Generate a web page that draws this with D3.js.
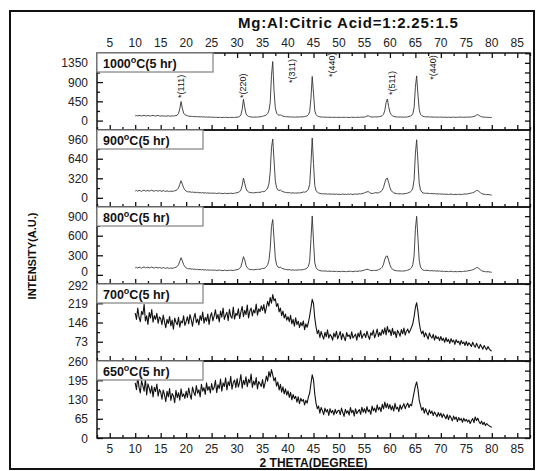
<!DOCTYPE html>
<html>
<head>
<meta charset="utf-8">
<script src="https://cdn.jsdelivr.net/npm/d3@7"></script>
<style>
  body { margin: 0; background: #fff; }
  svg { display: block; font-family: Arial, "Liberation Sans", sans-serif; }
</style>
</head>
<body>
<svg id="chart" width="537" height="471"></svg>
<script>
// sampling of every pattern: 10..80 deg, 0.25 deg step
const thetaStart = 10
const thetaStep = 0.25

const xTickLabels = [5, 10, 15, 20, 25, 30, 35, 40, 45, 50, 55, 60, 65, 70, 75, 80, 85]
const panelNames = ['1000', '900', '800', '700', '650']

// intensities, one row = 5 degrees
const int1000 = [
  112,118,109,121,115,108,117,124,113,110,119,114,106,116,121,111,108,115,119,110,
  107,112,104,110,101,108,113,103,106,111,104,115,112,128,165,270,445,290,175,138,
  124,112,105,98,102,94,97,90,95,88,92,85,90,83,87,81,86,79,84,78,
  82,76,80,73,78,71,77,74,70,76,72,79,73,70,75,71,77,74,72,79,
  78,84,95,135,260,500,310,160,116,98,90,85,82,79,84,80,86,83,90,96,
  100,108,118,135,165,230,420,1050,1380,700,300,175,140,125,132,120,105,98,94,90,
  88,84,86,82,85,80,83,86,81,84,88,85,90,94,100,112,135,210,520,1030,
  640,230,140,108,95,88,84,80,83,78,81,76,80,77,74,79,75,78,73,77,
  74,78,72,76,79,73,77,75,71,76,79,74,77,73,76,80,75,78,82,79,
  84,92,105,112,98,86,82,85,88,84,86,90,95,102,115,145,240,420,505,330,
  195,140,112,98,90,86,84,81,85,80,83,79,84,82,88,95,105,120,160,300,
  780,1045,620,260,150,115,100,92,88,85,90,86,82,85,80,84,81,78,82,79,
  83,79,76,81,78,75,80,77,74,79,82,76,78,75,80,83,78,81,77,80,
  82,79,84,81,86,90,96,108,128,142,120,100,90,84,80,77,79,74,76,72,
  70
]
const int900 = [
  112,120,108,124,116,105,119,126,111,115,122,109,118,125,113,108,121,116,110,118,
  114,106,119,111,104,115,108,102,112,105,110,116,120,135,160,220,280,225,165,130,
  110,102,96,100,91,95,88,93,85,90,82,87,80,85,78,83,76,81,75,79,
  74,80,72,77,70,75,79,71,74,68,76,72,69,75,71,77,73,70,76,80,
  84,90,102,130,200,323,240,150,112,96,88,82,86,80,84,89,85,92,88,97,
  104,100,112,130,160,230,420,820,963,620,280,165,130,118,128,112,100,94,90,86,
  82,86,80,78,83,76,80,77,82,79,84,88,96,92,100,115,140,220,560,980,
  560,200,120,92,80,72,68,64,68,62,66,60,64,59,63,58,62,57,61,56,
  60,55,58,62,56,59,54,61,57,63,58,55,60,64,58,62,66,63,70,74,
  82,90,98,102,88,76,70,74,80,86,78,84,92,105,125,170,250,310,323,250,
  170,120,95,82,74,70,66,68,64,67,63,66,70,72,78,86,98,115,160,300,
  720,950,600,240,130,95,80,74,78,72,76,70,68,72,66,70,64,67,62,66,
  60,64,58,62,56,60,55,59,62,56,54,58,53,57,55,59,54,58,60,63,
  62,66,70,74,78,84,92,105,118,120,102,84,70,62,58,55,52,56,50,48,
  45
]
const int800 = [
  108,115,104,119,111,102,116,121,107,112,118,105,114,120,109,104,117,111,106,113,
  108,101,113,106,99,110,103,97,107,100,105,111,116,130,155,210,263,215,158,125,
  106,98,92,96,87,91,84,89,81,86,78,83,76,81,74,79,72,77,71,75,
  70,76,68,73,66,71,75,67,70,64,72,68,65,71,67,73,69,66,72,76,
  80,86,98,125,195,279,230,145,108,92,84,78,82,76,80,85,81,88,84,93,
  100,96,108,125,155,220,400,740,848,560,260,155,122,110,118,104,94,88,84,80,
  77,81,75,73,78,71,75,72,77,74,79,76,82,86,92,106,130,210,540,903,
  520,185,110,84,72,66,62,58,62,56,60,54,58,53,57,52,56,51,55,50,
  54,49,52,56,50,53,48,55,51,57,52,49,54,58,52,56,60,57,64,68,
  74,80,86,82,74,68,64,67,70,66,72,78,86,98,118,165,240,285,289,225,
  155,110,86,74,68,64,60,62,58,61,57,60,64,66,72,80,92,110,155,290,
  700,898,570,225,120,88,74,68,72,66,70,64,62,66,60,64,58,61,56,60,
  54,58,52,56,50,54,49,53,56,50,48,52,47,51,49,53,48,52,54,57,
  56,60,64,68,72,78,86,98,110,112,95,78,64,56,52,49,46,50,44,42,
  40
]
const int700 = [
  182,158,201,166,149,188,176,215,152,171,139,184,163,195,147,172,158,181,143,167,
  161,138,174,149,126,158,142,169,133,155,121,163,147,137,166,128,152,144,171,135,
  149,168,141,176,157,132,163,181,146,159,137,172,154,186,143,165,151,178,139,169,
  183,152,171,194,160,177,148,189,166,201,158,174,185,153,196,170,162,205,159,181,
  173,198,161,186,207,168,192,176,212,163,189,201,171,194,182,216,174,198,187,209,
  192,214,181,203,226,208,241,219,252,229,236,207,218,186,201,172,189,163,178,155,
  168,149,173,141,158,132,164,138,151,127,146,133,152,119,141,128,146,171,202,234,
  218,163,129,104,117,89,112,96,83,109,92,118,87,101,94,79,106,91,113,84,
  97,112,81,104,90,77,108,93,99,84,111,87,95,102,79,106,91,115,86,98,
  104,89,113,95,82,107,98,117,88,102,121,93,108,97,119,103,126,99,131,109,
  118,96,124,101,112,89,116,107,94,119,103,125,98,113,121,106,117,128,142,168,
  203,221,189,146,118,103,114,91,107,96,83,106,94,87,101,79,96,85,91,77,
  93,78,86,71,89,74,82,67,85,72,79,63,81,70,75,61,78,66,72,59,
  74,58,69,63,55,71,60,52,67,56,48,63,54,45,59,50,43,55,46,40,
  38
]
const int650 = [
  186,163,207,171,152,194,177,158,199,145,183,168,151,176,139,171,157,182,141,164,
  155,131,162,146,123,158,139,167,127,150,142,119,161,136,153,128,166,140,149,134,
  158,137,169,146,131,172,155,143,177,151,163,139,181,158,170,147,186,161,174,152,
  184,162,171,195,153,180,167,199,158,186,174,203,162,190,177,208,165,187,196,170,
  201,172,189,214,168,195,180,207,173,198,186,216,171,192,179,204,166,191,183,174,
  197,168,186,209,192,224,206,231,212,193,204,175,189,162,181,155,173,149,166,145,
  159,137,154,129,147,133,141,121,139,116,134,124,130,112,127,118,139,152,184,213,
  196,148,117,99,108,84,103,92,79,101,88,96,76,99,85,93,78,97,83,91,
  94,79,101,86,73,97,84,92,77,103,85,94,74,99,82,90,96,80,104,87,
  99,84,106,89,95,80,108,92,101,87,112,95,104,89,114,98,121,102,116,99,
  113,95,108,91,117,98,104,89,112,97,106,116,99,110,118,103,114,109,132,154,
  176,189,166,128,110,94,103,84,99,87,78,95,83,91,76,88,80,72,86,74,
  84,69,81,73,65,79,62,76,68,58,74,63,71,55,69,60,66,53,67,57,
  63,54,61,49,58,66,52,71,59,67,55,48,57,45,53,42,49,44,41,38,
  36
]
const series = [int1000, int900, int800, int700, int650]

const yDomains = [[-220, 1580], [-150, 1110], [-140, 1040], [0, 292], [0, 260]]
const yTicks = [[0, 450, 900, 1350], [0, 320, 640, 960], [0, 300, 600, 900], [73, 146, 219, 292], [0, 65, 130, 195, 260]]
const yMinor = [[-225, 225, 675, 1125, 1575], [-160, 160, 480, 800], [-150, 150, 450, 750], [36.5, 109.5, 182.5, 255.5], [32.5, 97.5, 162.5, 227.5]]
const yHidden = [[], [], [], [0], []]

const peakLabels = ['*(111)', '*(220)', '*(311)', '*(440)', '*(511)', '*(440)']
const peakLabelTheta = [18.9, 31.1, 40.7, 48.5, 60.3, 68.3]
const peakLabelBase = [530, 530, 880, 1020, 600, 955]

const L = 97, R = 530, T = 53, B = 438
const ph = (B - T) / 5

const svg = d3.select('#chart')
svg.append('rect').attr('x', 0).attr('y', 0).attr('width', 537).attr('height', 471).attr('fill', '#fff')
svg.append('rect').attr('x', 10).attr('y', 11).attr('width', 524).attr('height', 458)
  .attr('fill', 'none').attr('stroke', '#111').attr('stroke-width', 2)

const x = d3.scaleLinear().domain([2.5, 87.5]).range([L, R])
const xMinor = d3.range(2.5, 88, 2.5).filter(function (v) { return v % 5 !== 0 })

svg.append('text').attr('x', 238).attr('y', 28).attr('font-size', 15).attr('font-weight', 'bold')
  .attr('letter-spacing', 0.8).attr('fill', '#111').text('Mg:Al:Citric Acid=1:2.25:1.5')

// top and bottom tick labels
svg.append('g').selectAll('text').data(xTickLabels).join('text')
  .attr('x', function (d) { return x(d) }).attr('y', 47).attr('text-anchor', 'middle')
  .attr('font-size', 12).attr('fill', '#222').text(function (d) { return d })
svg.append('g').selectAll('text').data(xTickLabels).join('text')
  .attr('x', function (d) { return x(d) }).attr('y', 453).attr('text-anchor', 'middle')
  .attr('font-size', 12).attr('fill', '#222').text(function (d) { return d })

svg.append('text').attr('x', (L + R) / 2).attr('y', 467).attr('text-anchor', 'middle')
  .attr('font-size', 12).attr('font-weight', 'bold').attr('fill', '#111').text('2 THETA(DEGREE)')
svg.append('text').attr('transform', 'translate(36,256) rotate(-90)').attr('text-anchor', 'middle')
  .attr('font-size', 11).attr('font-weight', 'bold').attr('fill', '#111').text('INTENSITY(A.U.)')

series.forEach(function (vals, p) {
  const top = T + p * ph
  const y = d3.scaleLinear().domain(yDomains[p]).range([top + ph, top])
  const g = svg.append('g')

  const line = d3.line()
    .x(function (d, i) { return x(thetaStart + i * thetaStep) })
    .y(function (d) { return y(d) })
  g.append('path').datum(vals).attr('d', line).attr('fill', 'none')
    .attr('stroke', p < 3 ? '#333' : '#111').attr('stroke-width', p < 3 ? 0.9 : 1.1)
    .attr('stroke-linejoin', 'round')

  // x ticks, inward
  g.append('g').attr('transform', 'translate(0,' + (top + ph) + ')')
    .call(d3.axisTop(x).tickValues(xTickLabels).tickSize(5).tickFormat(''))
    .call(function (a) { a.select('.domain').remove() })
  g.append('g').attr('transform', 'translate(0,' + (top + ph) + ')')
    .call(d3.axisTop(x).tickValues(xMinor).tickSize(3).tickFormat(''))
    .call(function (a) { a.select('.domain').remove() })
  if (p === 0) {
    g.append('g').attr('transform', 'translate(0,' + top + ')')
      .call(d3.axisBottom(x).tickValues(xTickLabels).tickSize(5).tickFormat(''))
      .call(function (a) { a.select('.domain').remove() })
    g.append('g').attr('transform', 'translate(0,' + top + ')')
      .call(d3.axisBottom(x).tickValues(xMinor).tickSize(3).tickFormat(''))
      .call(function (a) { a.select('.domain').remove() })
  }

  // y ticks left and right, inward
  const inRange = function (v) { return v >= yDomains[p][0] && v <= yDomains[p][1] }
  g.append('g').attr('transform', 'translate(' + L + ',0)')
    .call(d3.axisRight(y).tickValues(yTicks[p].filter(inRange)).tickSize(6).tickFormat(''))
    .call(function (a) { a.select('.domain').remove() })
  g.append('g').attr('transform', 'translate(' + L + ',0)')
    .call(d3.axisRight(y).tickValues(yMinor[p].filter(inRange)).tickSize(3).tickFormat(''))
    .call(function (a) { a.select('.domain').remove() })
  g.append('g').attr('transform', 'translate(' + R + ',0)')
    .call(d3.axisLeft(y).tickValues(yTicks[p].concat(yMinor[p]).filter(inRange)).tickSize(5).tickFormat(''))
    .call(function (a) { a.select('.domain').remove() })

  g.selectAll('.tick line').attr('stroke', '#111').attr('stroke-width', 1.3)

  // the 800 panel's "0" sits just above the 700 panel's "292"
  const nudge = function (d) {
    if (p === 2 && d === 0) return -3.5
    if (p === 3 && d === 292) return 1
    return 0
  }
  g.append('g').selectAll('text').data(yTicks[p].filter(function (v) { return yHidden[p].indexOf(v) < 0 })).join('text')
    .attr('x', 88).attr('y', function (d) { return y(d) + 4.5 + nudge(d) }).attr('text-anchor', 'end')
    .attr('font-size', 12).attr('fill', '#222').text(function (d) { return d })

  g.append('rect').attr('x', L).attr('y', top).attr('width', R - L).attr('height', ph)
    .attr('fill', 'none').attr('stroke', '#111').attr('stroke-width', 1.5)

  // label box
  const bw = p === 0 ? 116 : 106
  g.append('rect').attr('x', L).attr('y', top).attr('width', bw).attr('height', 19)
    .attr('fill', '#fff').attr('stroke', '#8a8a8a').attr('stroke-width', 1.3)
  const t = g.append('text').attr('x', L + 6).attr('y', top + 15).attr('font-size', 12.5)
    .attr('font-weight', 'bold').attr('fill', '#111')
  t.append('tspan').text(panelNames[p])
  t.append('tspan').attr('font-size', 9).attr('dy', -5).text('o')
  t.append('tspan').attr('dy', 5).text('C(5 hr)')

  if (p === 0) {
    g.append('g').selectAll('text').data(peakLabels).join('text')
      .attr('transform', function (d, i) { return 'translate(' + (x(peakLabelTheta[i]) + 3.5) + ',' + y(peakLabelBase[i]) + ') rotate(-90)' })
      .attr('font-size', 9).attr('fill', '#111').text(function (d) { return d })
  }
})
</script>
</body>
</html>
